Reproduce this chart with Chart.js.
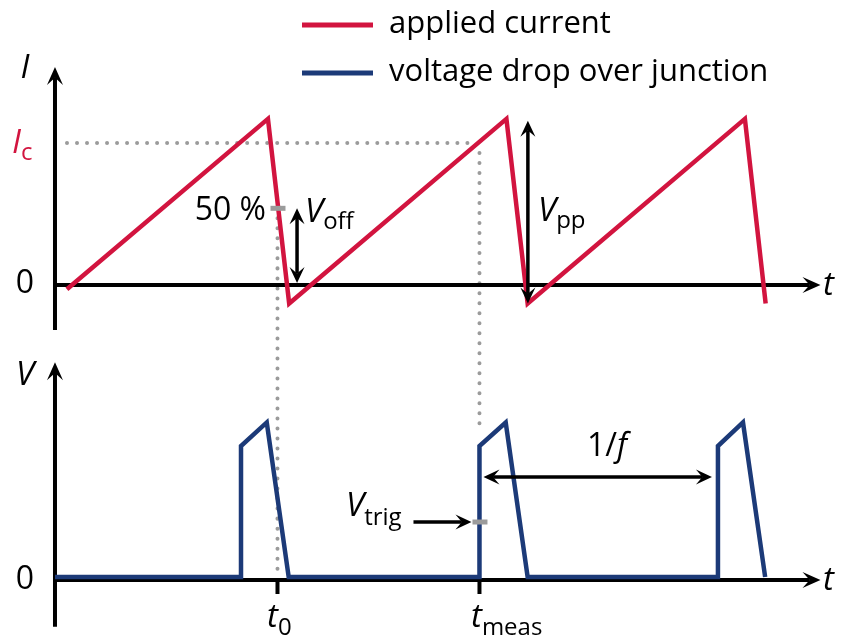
<!DOCTYPE html>
<html>
<head>
<meta charset="utf-8">
<script src="https://cdn.jsdelivr.net/npm/chart.js@4/dist/chart.umd.min.js"></script>
<style>
html,body{margin:0;padding:0;background:#ffffff;}
#wrap{width:841px;height:642px;}
</style>
</head>
<body>
<div id="wrap"><canvas id="c" width="841" height="642"></canvas></div>
<script>
// ---- data ----
const seriesLabels = ['applied current', 'voltage drop over junction'];
// applied current (sawtooth), time in arbitrary units, current relative to I_c
const currentT = [0.5, 8.93, 9.82, 18.93, 19.82, 28.93, 29.8];
const currentI = [-0.03, 1.17, -0.13, 1.17, -0.13, 1.17, -0.13];
// voltage drop over junction (pulses), voltage relative to switching level
const voltageT = [0, 7.8, 7.8, 8.88, 9.8, 17.8, 17.8, 18.9, 19.82, 27.8, 27.8, 28.85, 29.78];
const voltageV = [0, 0, 1, 1.18, 0, 0, 1, 1.18, 0, 0, 1, 1.18, 0];
// annotation levels
const levelIc = 1;        // I_c
const levelHalf = 0.54;   // 50 % level
const levelPeak = 1.17;   // top of sawtooth
const levelMin = -0.13;   // bottom of sawtooth
const t0 = 9.33;
const tMeas = 17.8;
const tNext = 27.8;
const vTrig = 0.42;
const vPeriodArrow = 0.763;
const tVoff = 10.15;
const tVpp = 19.83;

const RED = '#D2143F', BLUE = '#1C3A78', GRAY = '#9b9b9b', BLACK = '#000000';
const FONT = '"Open Sans", Lato, sans-serif';

function head(ctx, x, y, ang, len, half) {
  ctx.save();
  ctx.translate(x, y); ctx.rotate(ang);
  ctx.beginPath();
  ctx.moveTo(0, 0); ctx.lineTo(-len, -half); ctx.lineTo(-len * 0.6, 0); ctx.lineTo(-len, half);
  ctx.closePath(); ctx.fill();
  ctx.restore();
}
function arrow(ctx, x1, y1, x2, y2, both, lw, len, half) {
  const ang = Math.atan2(y2 - y1, x2 - x1);
  const d = len * 0.6;
  const sx = both ? x1 + Math.cos(ang) * d : x1, sy = both ? y1 + Math.sin(ang) * d : y1;
  const ex = x2 - Math.cos(ang) * d, ey = y2 - Math.sin(ang) * d;
  ctx.save();
  ctx.strokeStyle = BLACK; ctx.fillStyle = BLACK; ctx.lineWidth = lw; ctx.lineCap = 'butt';
  ctx.beginPath(); ctx.moveTo(sx, sy); ctx.lineTo(ex, ey); ctx.stroke();
  head(ctx, x2, y2, ang, len, half);
  if (both) head(ctx, x1, y1, ang + Math.PI, len, half);
  ctx.restore();
}
function dotted(ctx, x1, y1, x2, y2) {
  ctx.save();
  ctx.strokeStyle = GRAY; ctx.lineWidth = 4; ctx.lineCap = 'round';
  ctx.setLineDash([0.01, 10]);
  ctx.beginPath(); ctx.moveTo(x1, y1); ctx.lineTo(x2, y2); ctx.stroke();
  ctx.restore();
}
function seg(ctx, x1, y1, x2, y2, color, lw) {
  ctx.save();
  ctx.strokeStyle = color; ctx.lineWidth = lw; ctx.lineCap = 'butt';
  ctx.beginPath(); ctx.moveTo(x1, y1); ctx.lineTo(x2, y2); ctx.stroke();
  ctx.restore();
}
// parts: [text, font, color, dy]
function label(ctx, parts, x, y, align) {
  ctx.save();
  ctx.textBaseline = 'alphabetic'; ctx.textAlign = 'left';
  let w = 0;
  const ws = parts.map(p => { ctx.font = p[1]; const m = ctx.measureText(p[0]).width; w += m; return m; });
  let cx = align === 'center' ? x - w / 2 : align === 'right' ? x - w : x;
  parts.forEach((p, i) => {
    ctx.font = p[1]; ctx.fillStyle = p[2];
    ctx.fillText(p[0], cx, y + (p[3] || 0));
    cx += ws[i];
  });
  ctx.restore();
}

const MAIN = 'italic 33px ' + FONT;
const SUB = '24px ' + FONT;
const NUM = '32px ' + FONT;

const diagram = {
  id: 'diagram',
  beforeDatasetsDraw(chart) {
    const ctx = chart.ctx;
    const x = chart.scales.x, yI = chart.scales.yI, yV = chart.scales.yV;
    const x0 = x.getPixelForValue(0);
    const xEnd = x.getPixelForValue(32.1);
    // dotted guides
    dotted(ctx, x0 + 12, yI.getPixelForValue(levelIc), x.getPixelForValue(tMeas) - 6, yI.getPixelForValue(levelIc));
    dotted(ctx, x.getPixelForValue(tMeas), yI.getPixelForValue(levelIc) + 10, x.getPixelForValue(tMeas), yV.getPixelForValue(1.12));
    dotted(ctx, x.getPixelForValue(t0), yI.getPixelForValue(levelHalf) + 10, x.getPixelForValue(t0), yV.getPixelForValue(0));
    // axes (top)
    const yI0 = yI.getPixelForValue(0);
    arrow(ctx, x0, yI.getPixelForValue(-0.317), x0, yI.getPixelForValue(1.535), false, 4, 18, 8);
    arrow(ctx, x0, yI0, xEnd, yI0, false, 4, 18, 8);
    // axes (bottom)
    const yV0 = yV.getPixelForValue(0) + 3;
    arrow(ctx, x0, yV.getPixelForValue(-0.38), x0, yV.getPixelForValue(1.64), false, 4, 18, 8);
    arrow(ctx, x0, yV0, xEnd, yV0, false, 4, 18, 8);
    // time ticks
    seg(ctx, x.getPixelForValue(t0), yV0 - 2, x.getPixelForValue(t0), yV0 + 14, BLACK, 4);
    seg(ctx, x.getPixelForValue(tMeas), yV0 - 2, x.getPixelForValue(tMeas), yV0 + 14, BLACK, 4);
  },
  afterDatasetsDraw(chart) {
    const ctx = chart.ctx;
    const x = chart.scales.x, yI = chart.scales.yI, yV = chart.scales.yV;
    // arrows
    arrow(ctx, x.getPixelForValue(tVoff), yI.getPixelForValue(levelHalf), x.getPixelForValue(tVoff), yI.getPixelForValue(0) - 2, true, 3.5, 16, 7.5);
    arrow(ctx, x.getPixelForValue(tVpp), yI.getPixelForValue(levelPeak) + 2, x.getPixelForValue(tVpp), yI.getPixelForValue(levelMin), true, 3.5, 16, 7.5);
    arrow(ctx, x.getPixelForValue(tMeas) + 4, yV.getPixelForValue(vPeriodArrow), x.getPixelForValue(tNext) - 6, yV.getPixelForValue(vPeriodArrow), true, 3.5, 16, 7.5);
    arrow(ctx, x.getPixelForValue(tMeas) - 66, yV.getPixelForValue(vTrig), x.getPixelForValue(tMeas) - 8, yV.getPixelForValue(vTrig), false, 3.5, 16, 7.5);
    // gray level marks
    const yh = yI.getPixelForValue(levelHalf);
    seg(ctx, x.getPixelForValue(t0) - 7, yh, x.getPixelForValue(t0) + 8, yh, GRAY, 5);
    const yt = yV.getPixelForValue(vTrig);
    seg(ctx, x.getPixelForValue(tMeas) - 7, yt, x.getPixelForValue(tMeas) + 8, yt, GRAY, 5);
    // texts
    label(ctx, [['I', MAIN, BLACK]], 25, 78, 'center');
    label(ctx, [['I', MAIN, RED], ['c', SUB, RED, 7]], 12, 153, 'left');
    label(ctx, [['0', NUM, BLACK]], 25, 293, 'center');
    label(ctx, [['t', MAIN, BLACK]], 823, 295, 'left');
    label(ctx, [['50 %', NUM, BLACK]], 266, 220, 'right');
    label(ctx, [['V', MAIN, BLACK], ['off', SUB, BLACK, 7]], 305, 222, 'left');
    label(ctx, [['V', MAIN, BLACK], ['pp', SUB, BLACK, 7]], 538, 221, 'left');
    label(ctx, [['V', MAIN, BLACK]], 25, 385, 'center');
    label(ctx, [['0', NUM, BLACK]], 25, 589, 'center');
    label(ctx, [['t', MAIN, BLACK]], 823, 590, 'left');
    label(ctx, [['1/', NUM, BLACK], ['f', 'italic 32px ' + FONT, BLACK]], 587, 456, 'left');
    label(ctx, [['V', MAIN, BLACK], ['trig', SUB, BLACK, 9]], 346, 516, 'left');
    label(ctx, [['t', MAIN, BLACK], ['0', SUB, BLACK, 8]], 267, 627, 'left');
    label(ctx, [['t', MAIN, BLACK], ['meas', SUB, BLACK, 8]], 471, 627, 'left');
    // legend
    const ds = chart.data.datasets;
    ds.forEach((d, i) => {
      const ly = 25 + i * 48;
      seg(ctx, 302, ly, 373, ly, d.borderColor, 5);
      label(ctx, [[d.label, '31px ' + FONT, BLACK]], 389, ly + 8, 'left');
    });
  }
};

new Chart(document.getElementById('c').getContext('2d'), {
  type: 'line',
  data: {
    datasets: [
      { label: seriesLabels[0], data: currentT.map((t, i) => ({ x: t, y: currentI[i] })), yAxisID: 'yI',
        borderColor: RED, borderWidth: 4.5, pointRadius: 0, tension: 0, fill: false, borderJoinStyle: 'miter' },
      { label: seriesLabels[1], data: voltageT.map((t, i) => ({ x: t, y: voltageV[i] })), yAxisID: 'yV',
        borderColor: BLUE, borderWidth: 4.5, pointRadius: 0, tension: 0, fill: false, borderJoinStyle: 'miter' }
    ]
  },
  options: {
    responsive: false, animation: false, devicePixelRatio: 1,
    layout: { padding: 0 },
    plugins: { legend: { display: false }, tooltip: { enabled: false } },
    scales: {
      x: { type: 'linear', min: -2.306, max: 32.96, display: false },
      yI: { type: 'linear', position: 'left', min: -2.514, max: 2.007, display: false },
      yV: { type: 'linear', position: 'left', min: -0.496, max: 4.405, display: false }
    }
  },
  plugins: [diagram]
});
</script>
</body>
</html>
